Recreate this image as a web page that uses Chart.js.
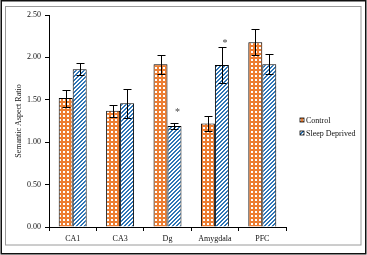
<!DOCTYPE html>
<html>
<head>
<meta charset="utf-8">
<script src="https://cdn.jsdelivr.net/npm/chart.js@4"></script>
<style>
  html, body { margin: 0; padding: 0; background: #fff; }
  #wrap { width: 367px; height: 255px; }
</style>
</head>
<body>
<div id="wrap"><canvas id="chart" width="367" height="255"></canvas></div>
<script>
// --- DATA ---
const categories = ['CA1', 'CA3', 'Dg', 'Amygdala', 'PFC'];
const seriesNames = ['Control', 'Sleep Deprived'];
const controlValues = [1.52, 1.37, 1.92, 1.22, 2.18];
const controlErrors = [0.10, 0.07, 0.11, 0.09, 0.15];
const sleepValues = [1.86, 1.46, 1.19, 1.91, 1.92];
const sleepErrors = [0.07, 0.17, 0.04, 0.21, 0.12];
const sleepMarks = [null, null, 1.37, 2.19, null]; // asterisk heights
const yMin = 0;
const yMax = 2.5;
const yStep = 0.5;

const ORANGE = '#ED7D31';
const BLUE = '#2E75B6';
const FONT = "'Liberation Serif', 'Times New Roman', serif";

// --- PATTERNS ---
function dotPattern(ctx) {
    const c = document.createElement('canvas');
    c.width = 4; c.height = 4;
    const g = c.getContext('2d');
    g.fillStyle = '#fff';
    g.fillRect(0, 0, 4, 4);
    g.fillStyle = ORANGE;
    g.fillRect(1, 0, 2, 4);
    g.fillRect(0, 1, 4, 2);
    return ctx.createPattern(c, 'repeat');
}

function stripePattern(ctx) {
    const c = document.createElement('canvas');
    c.width = 4; c.height = 4;
    const g = c.getContext('2d');
    g.fillStyle = '#fff';
    g.fillRect(0, 0, 4, 4);
    g.fillStyle = BLUE;
    for (let x = 0; x < 4; x++) {
        for (let y = 0; y < 4; y++) {
            const k = (x + y) % 4;
            if (k === 1 || k === 2) g.fillRect(x, y, 1, 1);
        }
    }
    return ctx.createPattern(c, 'repeat');
}

const canvas = document.getElementById('chart');
const ctx = canvas.getContext('2d');
const controlFill = dotPattern(ctx);
const sleepFill = stripePattern(ctx);

// frames, error bars, asterisks, legend
const extras = {
    id: 'extras',
    beforeDraw(chart) {
        const c = chart.ctx;
        c.save();
        c.fillStyle = '#fff';
        c.fillRect(0, 0, chart.width, chart.height);
        c.strokeStyle = '#111';
        c.lineWidth = 1.5;
        c.strokeRect(1.25, 0.75, chart.width - 2.5, chart.height - 2);
        c.strokeStyle = '#9a9a9a';
        c.lineWidth = 1;
        c.strokeRect(5.5, 6.5, chart.width - 11.5, chart.height - 16.5);
        c.restore();
    },
    afterDatasetsDraw(chart) {
        const c = chart.ctx;
        const y = chart.scales.y;
        const errs = [controlErrors, sleepErrors];
        c.save();
        c.strokeStyle = '#000';
        c.lineWidth = 1;
        chart.data.datasets.forEach((ds, di) => {
            const meta = chart.getDatasetMeta(di);
            meta.data.forEach((bar, i) => {
                const v = ds.data[i];
                const e = errs[di][i];
                const x = Math.round(bar.x) + 0.5;
                const top = Math.round(y.getPixelForValue(v + e)) + 0.5;
                const bot = Math.round(y.getPixelForValue(v - e)) + 0.5;
                c.beginPath();
                c.moveTo(x, top); c.lineTo(x, bot);
                c.moveTo(x - 4, top); c.lineTo(x + 4, top);
                c.moveTo(x - 4, bot); c.lineTo(x + 4, bot);
                c.stroke();
            });
        });
        // significance marks
        const meta = chart.getDatasetMeta(1);
        c.fillStyle = '#444';
        c.font = '10px ' + FONT;
        c.textAlign = 'center';
        c.textBaseline = 'middle';
        sleepMarks.forEach((m, i) => {
            if (m === null) return;
            c.fillText('*', meta.data[i].x + 3, y.getPixelForValue(m) + 2);
        });
        // legend
        c.font = '8px ' + FONT;
        c.textAlign = 'left';
        const fills = [controlFill, sleepFill];
        seriesNames.forEach((name, i) => {
            const ly = 120 + i * 13;
            c.fillStyle = fills[i];
            c.fillRect(300, ly - 2, 4, 4);
            c.strokeStyle = '#000';
            c.lineWidth = 0.8;
            c.strokeRect(300, ly - 2, 4, 4);
            c.fillStyle = '#111';
            c.fillText(name, 306, ly + 0.5);
        });
        c.restore();
    }
};

new Chart(ctx, {
    type: 'bar',
    data: {
        labels: categories,
        datasets: [
            {
                label: seriesNames[0],
                data: controlValues,
                backgroundColor: controlFill,
                borderColor: '#000',
                borderWidth: 1
            },
            {
                label: seriesNames[1],
                data: sleepValues,
                backgroundColor: sleepFill,
                borderColor: '#000',
                borderWidth: 1
            }
        ]
    },
    options: {
        responsive: false,
        animation: false,
        devicePixelRatio: 1,
        categoryPercentage: 0.59,
        barPercentage: 1.0,
        layout: { padding: { left: 0, top: 15, right: 81, bottom: 0 } },
        plugins: {
            legend: { display: false },
            tooltip: { enabled: false }
        },
        scales: {
            x: {
                grid: { display: true, drawOnChartArea: false, tickLength: 4, color: '#000', offset: true },
                border: { color: '#000', width: 1 },
                ticks: { color: '#111', padding: 3, font: { family: FONT, size: 8 } },
                afterFit(s) { s.height = 28; }
            },
            y: {
                min: yMin,
                max: yMax,
                grid: { display: true, drawOnChartArea: false, tickLength: 4, color: '#000' },
                border: { color: '#000', width: 1 },
                ticks: {
                    stepSize: yStep,
                    color: '#111',
                    padding: 4,
                    font: { family: FONT, size: 8 },
                    callback: v => v.toFixed(2)
                },
                title: {
                    display: true,
                    text: 'Semantic Aspect Ratio',
                    color: '#111',
                    font: { family: FONT, size: 8 },
                    padding: { top: 14, bottom: 0 }
                },
                afterFit(s) { s.width = 49; }
            }
        }
    },
    plugins: [extras]
});
</script>
</body>
</html>
